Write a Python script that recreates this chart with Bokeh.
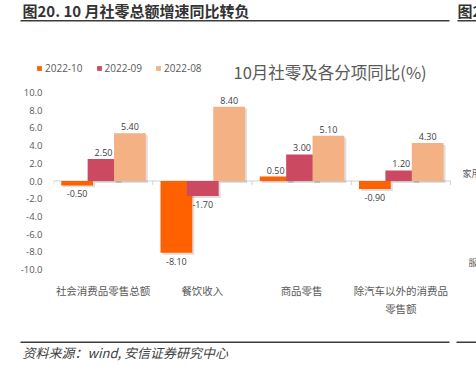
from bokeh.plotting import figure
from bokeh.layouts import column
from bokeh.models import (Range1d, FixedTicker, Label, Legend, LegendItem,
                          ColumnDataSource, BoxAnnotation, PrintfTickFormatter)
from bokeh.transform import dodge
from bokeh.core.properties import value
from bokeh.embed import file_html
from bokeh.resources import INLINE

# ---------------- data ----------------
categories = ["社会消费品零售总额", "餐饮收入", "商品零售", "除汽车以外的消费品\n零售额"]
series_names = ["2022-10", "2022-09", "2022-08"]
s_2022_10 = [-0.50, -8.10, 0.50, -0.90]
s_2022_09 = [2.50, -1.70, 3.00, 1.20]
s_2022_08 = [5.40, 8.40, 5.10, 4.30]
y_ticks = [-10, -8, -6, -4, -2, 0, 2, 4, 6, 8, 10]

chart_title = "10月社零及各分项同比(%)"
header_text = "图20. 10 月社零总额增速同比转负"
next_header = "图2"
source_text = "资料来源：wind, 安信证券研究中心"
side_texts = ["家用", "服"]

# ---------------- style ----------------
colors = ["#FF6100", "#CC4A61", "#F4B183"]
offsets = [-0.262, 0.004, 0.27]
bar_w = 0.32
CJK = "Noto Sans CJK SC"
NUM = "Open Sans"
GRAY = "#595959"
RULE = "#3C3C3C"

W = 476
H_TOP, H_MAIN, H_FOOT = 84, 246, 41
FRAME_L, FRAME_R_DATA = 53, 450   # pixel span covering the four categories


def bare(height):
    f = figure(width=W, height=height, output_backend="svg", toolbar_location=None,
               title=None, x_axis_type=None, y_axis_type=None,
               x_range=Range1d(0, 1), y_range=Range1d(0, 1), min_border=0,
               frame_align=False)
    f.outline_line_color = None
    f.xgrid.grid_line_color = None
    f.ygrid.grid_line_color = None
    f.border_fill_color = "white"
    f.background_fill_color = "white"
    return f


def rule(fig, x0, x1, y_top, thick=1.5):
    fig.add_layout(BoxAnnotation(left=x0, right=x1, top=y_top, bottom=y_top - thick,
                                 left_units="screen", right_units="screen",
                                 top_units="screen", bottom_units="screen",
                                 fill_color=RULE, fill_alpha=1, line_color=None))


# ---------------- header + legend + chart title ----------------
top = bare(H_TOP)
top.add_layout(Label(x=22, y=H_TOP - 9.5, x_units="screen", y_units="screen", text=header_text,
                     text_font=CJK, text_font_size="15px", text_font_style="bold",
                     text_color="#333333", text_baseline="middle"))
top.add_layout(Label(x=457, y=H_TOP - 9.5, x_units="screen", y_units="screen", text=next_header,
                     text_font=CJK, text_font_size="15px", text_font_style="bold",
                     text_color="#333333", text_baseline="middle"))
rule(top, 20, 449, H_TOP - 19.5)
rule(top, 457, 476, H_TOP - 19.5)

# legend swatches (zero-height bars, only their legend glyphs are seen)
legend_rs = [top.vbar(x=[0.5], top=[0], bottom=[0], width=0.01, fill_color=c, line_color=None)
             for c in colors]
legend = Legend(items=[LegendItem(label=n, renderers=[r]) for n, r in zip(series_names, legend_rs)],
                orientation="horizontal", location=(36, 9), glyph_width=6, glyph_height=6,
                label_text_font=NUM, label_text_font_size="10px", label_text_color=GRAY,
                label_height=12, label_width=10, label_standoff=3, spacing=13, padding=0, margin=0,
                border_line_color=None, background_fill_alpha=0)
top.add_layout(legend, "center")
top.add_layout(Label(x=233, y=13, x_units="screen", y_units="screen", text=chart_title,
                     text_font=CJK, text_font_size="16.5px", text_color=GRAY,
                     text_baseline="middle"))

# ---------------- main chart ----------------
n = len(categories)
x_end = n * (W - FRAME_L) / (FRAME_R_DATA - FRAME_L)
p = figure(width=W, height=H_MAIN, output_backend="svg", toolbar_location=None,
           title=None, x_range=Range1d(0, x_end), y_range=Range1d(-10, 10),
           min_border_left=FRAME_L, min_border_right=0, min_border_top=8, min_border_bottom=61,
           frame_align=False)
p.outline_line_color = None
p.xgrid.grid_line_color = None
p.ygrid.grid_line_color = None
p.background_fill_color = "white"
p.border_fill_color = "white"

p.yaxis.ticker = FixedTicker(ticks=y_ticks)
p.yaxis.formatter = PrintfTickFormatter(format="%.1f")
p.yaxis.axis_line_color = None
p.yaxis.major_tick_line_color = None
p.yaxis.minor_tick_line_color = None
p.yaxis.major_label_text_font = NUM
p.yaxis.major_label_text_font_size = "9.5px"
p.yaxis.major_label_text_color = GRAY
p.yaxis.major_label_standoff = 5

xs = [i + 0.5 for i in range(n)]
p.xaxis.ticker = FixedTicker(ticks=xs)
p.xaxis.major_label_overrides = {x: c for x, c in zip(xs, categories)}
p.xaxis.axis_line_color = None
p.xaxis.major_tick_line_color = None
p.xaxis.minor_tick_line_color = None
p.xaxis.major_label_text_font = CJK
p.xaxis.major_label_text_font_size = "10.5px"
p.xaxis.major_label_text_color = GRAY
p.xaxis.major_label_standoff = 7

# zero axis line with category boundary ticks
p.segment(x0=[0], x1=[n], y0=[0], y1=[0], line_color="#D0D0D0", line_width=1)
bounds = list(range(n + 1))
p.segment(x0=bounds, x1=bounds, y0=[0] * len(bounds), y1=[-0.45] * len(bounds),
          line_color="#D0D0D0", line_width=1)

all_series = [s_2022_10, s_2022_09, s_2022_08]
for vals, off in zip(all_series, offsets):
    src = ColumnDataSource(dict(x=xs, top=vals))
    p.vbar(x=dodge("x", off + 0.02), top=dodge("top", -0.22), bottom=-0.22, width=bar_w,
           source=src, fill_color="#000000", fill_alpha=0.13, line_color=None)
for vals, col, off in zip(all_series, colors, offsets):
    src = ColumnDataSource(dict(x=xs, top=vals))
    p.vbar(x=dodge("x", off), top="top", bottom=0, width=bar_w, source=src,
           fill_color=col, line_color=None)
for vals, off in zip(all_series, offsets):
    pos = [(x, v) for x, v in zip(xs, vals) if v >= 0]
    neg = [(x, v) for x, v in zip(xs, vals) if v < 0]
    if pos:
        ps = ColumnDataSource(dict(x=[a for a, _ in pos], y=[b for _, b in pos],
                                   t=[f"{b:.2f}" for _, b in pos]))
        p.text(x=dodge("x", off), y="y", text="t", source=ps, text_align="center",
               text_baseline="bottom", y_offset=-3, text_font=value(NUM),
               text_font_size="9px", text_color="#404040")
    if neg:
        ns = ColumnDataSource(dict(x=[a for a, _ in neg], y=[b for _, b in neg],
                                   t=[f"{b:.2f}" for _, b in neg]))
        p.text(x=dodge("x", off), y="y", text="t", source=ns, text_align="center",
               text_baseline="top", y_offset=5, text_font=value(NUM),
               text_font_size="9px", text_color="#404040")

# fragments of the neighbouring chart at the right edge
p.add_layout(Label(x=462 - FRAME_L, y=96, x_units="screen", y_units="screen", text=side_texts[0],
                   text_font=CJK, text_font_size="9px", text_color=GRAY, text_baseline="middle"))
p.add_layout(Label(x=468 - FRAME_L, y=1, x_units="screen", y_units="screen", text=side_texts[1],
                   text_font=CJK, text_font_size="9px", text_color=GRAY, text_baseline="bottom"))

# ---------------- footer ----------------
foot = bare(H_FOOT)
rule(foot, 20, 449, H_FOOT - 11)
rule(foot, 456, 476, H_FOOT - 11)
foot.add_layout(Label(x=22, y=H_FOOT - 22, x_units="screen", y_units="screen", text=source_text,
                      text_font=CJK, text_font_size="13px", text_font_style="italic",
                      text_color="#404040", text_baseline="middle"))

layout = column(top, p, foot, spacing=0)
open("out.html", "w").write(file_html(layout, INLINE))
